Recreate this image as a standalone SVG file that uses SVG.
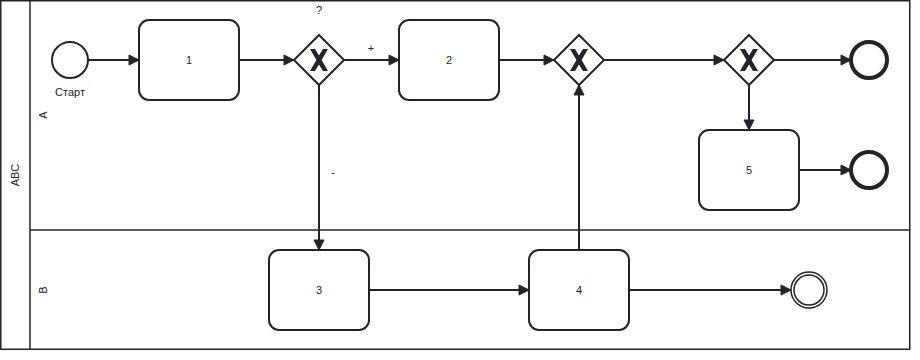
<svg xmlns="http://www.w3.org/2000/svg" width="920" height="360" viewBox="0 0 920 360">
<style>
text{font-family:"Liberation Sans",Arial,sans-serif;font-size:11px;fill:#22242a;text-anchor:middle;dominant-baseline:central}
.task{fill:#fff;stroke:#22242a;stroke-width:2}
.gw{fill:#fff;stroke:#22242a;stroke-width:2}
.xm{fill:#22242a;stroke:none}
.flow{fill:none;stroke:#22242a;stroke-width:2}
.lane{fill:none;stroke:#22242a;stroke-width:1.5}
</style>
<defs>
<marker id="arr" viewBox="0 0 20 20" refX="11" refY="10" markerWidth="20" markerHeight="20" orient="auto" markerUnits="userSpaceOnUse">
<path d="M1 5 L11 10 L1 15 Z" fill="#22242a" stroke="#22242a" stroke-width="1" stroke-linejoin="round"/>
</marker>
<path id="xmark" d="M-9 -11 L-4 -11 L0 -4.5 L4 -11 L9 -11 L2.6 0 L9 11 L4 11 L0 4.5 L-4 11 L-9 11 L-2.6 0 Z"/>
</defs>
<rect width="920" height="360" fill="#fff"/>
<g id="pool">
<rect class="lane" x="0.75" y="0.75" width="909" height="348.5"/>
<line class="lane" x1="30" y1="0.75" x2="30" y2="349.25"/>
<line class="lane" x1="30" y1="230" x2="909.75" y2="230"/>
<text transform="translate(15,175) rotate(-90)">ABC</text>
<text transform="translate(43,115) rotate(-90)">A</text>
<text transform="translate(43,290) rotate(-90)">B</text>
</g>
<g id="connectors">
<path class="flow" d="M88 60 L139 60" marker-end="url(#arr)"/>
<path class="flow" d="M239 60 L294 60" marker-end="url(#arr)"/>
<path class="flow" d="M344 60 L399 60" marker-end="url(#arr)"/>
<path class="flow" d="M499 60 L554 60" marker-end="url(#arr)"/>
<path class="flow" d="M604 60 L724 60" marker-end="url(#arr)"/>
<path class="flow" d="M774 60 L851 60" marker-end="url(#arr)"/>
<path class="flow" d="M749 85 L749 130" marker-end="url(#arr)"/>
<path class="flow" d="M799 170 L851 170" marker-end="url(#arr)"/>
<path class="flow" d="M319 85 L319 250" marker-end="url(#arr)"/>
<path class="flow" d="M369 290 L529 290" marker-end="url(#arr)"/>
<path class="flow" d="M579 250 L579 85" marker-end="url(#arr)"/>
<path class="flow" d="M629 290 L791 290" marker-end="url(#arr)"/>
<text x="371" y="48" font-size="10">+</text>
<text x="333" y="172" font-size="10">-</text>
</g>
<g id="start">
<circle cx="70" cy="60" r="18" fill="#fff" stroke="#22242a" stroke-width="2"/>
<text x="70" y="92" font-size="10">Старт</text>
</g>
<g id="task1"><rect class="task" x="139" y="20" width="100" height="80" rx="10"/><text x="189" y="60">1</text></g>
<g id="gw1"><path class="gw" d="M319 35 L344 60 L319 85 L294 60 Z"/><use href="#xmark" class="xm" x="319" y="60"/><text x="319" y="10" font-size="10">?</text></g>
<g id="task2"><rect class="task" x="399" y="20" width="100" height="80" rx="10"/><text x="449" y="60">2</text></g>
<g id="gw2"><path class="gw" d="M579 35 L604 60 L579 85 L554 60 Z"/><use href="#xmark" class="xm" x="579" y="60"/></g>
<g id="gw3"><path class="gw" d="M749 35 L774 60 L749 85 L724 60 Z"/><use href="#xmark" class="xm" x="749" y="60"/></g>
<g id="end1"><circle cx="869" cy="60" r="18" fill="#fff" stroke="#22242a" stroke-width="4"/></g>
<g id="task5"><rect class="task" x="699" y="130" width="100" height="80" rx="10"/><text x="749" y="170">5</text></g>
<g id="end2"><circle cx="869" cy="170" r="18" fill="#fff" stroke="#22242a" stroke-width="4"/></g>
<g id="task3"><rect class="task" x="269" y="250" width="100" height="80" rx="10"/><text x="319" y="290">3</text></g>
<g id="task4"><rect class="task" x="529" y="250" width="100" height="80" rx="10"/><text x="579" y="290">4</text></g>
<g id="event3"><circle cx="809" cy="290" r="18" fill="#fff" stroke="#22242a" stroke-width="1.5"/><circle cx="809" cy="290" r="15" fill="none" stroke="#22242a" stroke-width="1.5"/></g>
</svg>
